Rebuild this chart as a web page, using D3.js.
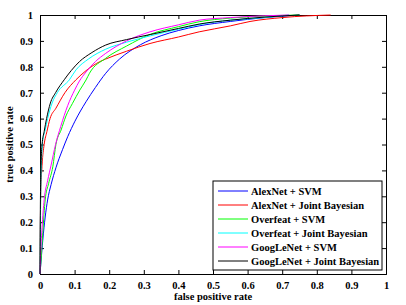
<!DOCTYPE html>
<html>
<head>
<meta charset="utf-8">
<script src="https://cdn.jsdelivr.net/npm/d3@7"></script>
<style>
  body { margin: 0; background: #fff; }
  text { font-family: "Liberation Serif", "Times New Roman", serif; font-weight: bold; }
</style>
</head>
<body>
<div class="canvas"></div>
<script>
var margin = {top: 15, right: 20, bottom: 31, left: 40},
    width = 406 - margin.left - margin.right,
    height = 305 - margin.top - margin.bottom;

// ROC curves: false positive rate / true positive rate
var seriesNames = ["AlexNet + SVM", "AlexNet + Joint Bayesian", "Overfeat + SVM",
                   "Overfeat + Joint Bayesian", "GoogLeNet + SVM", "GoogLeNet + Joint Bayesian"];
var seriesColors = ["#0000ff", "#ff0000", "#00ff00", "#00ffff", "#ff00ff", "#000000"];

var alexSvmFpr = [0, 0.003, 0.008, 0.015, 0.022, 0.032, 0.046, 0.065, 0.08, 0.101, 0.133, 0.16, 0.19, 0.23, 0.29, 0.35, 0.40, 0.46, 0.55, 0.65, 0.75];
var alexSvmTpr = [0, 0.05, 0.13, 0.22, 0.286, 0.345, 0.41, 0.48, 0.53, 0.59, 0.665, 0.72, 0.775, 0.83, 0.885, 0.92, 0.94, 0.958, 0.975, 0.99, 1];

var alexJbFpr = [0, 0.002, 0.006, 0.012, 0.02, 0.029, 0.046, 0.072, 0.104, 0.133, 0.173, 0.19, 0.25, 0.318, 0.40, 0.46, 0.55, 0.607, 0.70, 0.84];
var alexJbTpr = [0, 0.3, 0.42, 0.5, 0.55, 0.60, 0.64, 0.70, 0.75, 0.785, 0.82, 0.83, 0.86, 0.89, 0.915, 0.935, 0.958, 0.975, 0.99, 1];

var overSvmFpr = [0, 0.003, 0.008, 0.015, 0.025, 0.037, 0.046, 0.061, 0.075, 0.094, 0.115, 0.133, 0.143, 0.19, 0.25, 0.318, 0.40, 0.46, 0.55, 0.65, 0.75];
var overSvmTpr = [0, 0.054, 0.16, 0.286, 0.35, 0.414, 0.50, 0.556, 0.61, 0.659, 0.71, 0.749, 0.775, 0.833, 0.88, 0.925, 0.955, 0.974, 0.988, 0.996, 1];

var overJbFpr = [0, 0.002, 0.005, 0.008, 0.014, 0.022, 0.035, 0.05, 0.085, 0.104, 0.14, 0.19, 0.25, 0.32, 0.40, 0.46, 0.55, 0.65, 0.72];
var overJbTpr = [0, 0.3, 0.45, 0.517, 0.55, 0.60, 0.66, 0.70, 0.75, 0.788, 0.83, 0.868, 0.895, 0.92, 0.945, 0.963, 0.98, 0.99, 1];

var googSvmFpr = [0, 0.002, 0.006, 0.012, 0.022, 0.032, 0.045, 0.06, 0.08, 0.10, 0.114, 0.133, 0.16, 0.19, 0.25, 0.318, 0.40, 0.46, 0.55, 0.65, 0.72];
var googSvmTpr = [0, 0.08, 0.18, 0.286, 0.36, 0.42, 0.50, 0.57, 0.65, 0.71, 0.745, 0.78, 0.82, 0.852, 0.90, 0.935, 0.962, 0.98, 0.99, 0.997, 1];

var googJbFpr = [0, 0.001, 0.003, 0.006, 0.012, 0.019, 0.03, 0.045, 0.07, 0.09, 0.114, 0.15, 0.19, 0.25, 0.32, 0.40, 0.46, 0.55, 0.65, 0.75];
var googJbTpr = [0, 0.25, 0.42, 0.5, 0.55, 0.60, 0.66, 0.70, 0.75, 0.785, 0.82, 0.855, 0.884, 0.905, 0.925, 0.948, 0.965, 0.98, 0.992, 1];

var ticks = [0, 0.1, 0.2, 0.3, 0.4, 0.5, 0.6, 0.7, 0.8, 0.9, 1];

var series = [
  [alexSvmFpr, alexSvmTpr], [alexJbFpr, alexJbTpr], [overSvmFpr, overSvmTpr],
  [overJbFpr, overJbTpr], [googSvmFpr, googSvmTpr], [googJbFpr, googJbTpr]
].map(function(p, k) {
  return { name: seriesNames[k], color: seriesColors[k],
           values: p[0].map(function(f, i) { return [f, p[1][i]]; }) };
});

var svg = d3.select(".canvas").append("svg")
    .attr("width", width + margin.left + margin.right)
    .attr("height", height + margin.top + margin.bottom)
  .append("g")
    .attr("transform", "translate(" + margin.left + "," + margin.top + ")");

var x = d3.scaleLinear().domain([0, 1]).range([0, width]);
var y = d3.scaleLinear().domain([0, 1]).range([height, 0]);

var fmt = function(d) { return d === 0 || d === 1 ? d3.format("d")(d) : d3.format(".1f")(d); };

// axes: ticks point inward like the matlab figure
svg.append("g").attr("transform", "translate(0," + height + ")")
    .call(d3.axisBottom(x).tickValues(ticks).tickSize(-4).tickPadding(8).tickFormat(fmt));
svg.append("g")
    .call(d3.axisLeft(y).tickValues(ticks).tickSize(-4).tickPadding(7).tickFormat(fmt));
svg.append("g")
    .call(d3.axisTop(x).tickValues(ticks).tickSize(-4).tickFormat(""));
svg.append("g").attr("transform", "translate(" + width + ",0)")
    .call(d3.axisRight(y).tickValues(ticks).tickSize(-4).tickFormat(""));

svg.selectAll(".domain").attr("stroke", "#000");
svg.selectAll(".tick line").attr("stroke", "#000");
svg.selectAll(".tick text")
    .style("font-family", "'Liberation Serif', serif")
    .style("font-weight", "bold")
    .style("font-size", "10.5px")
    .attr("fill", "#000");

var line = d3.line()
    .curve(d3.curveMonotoneX)
    .x(function(d) { return x(d[0]); })
    .y(function(d) { return y(d[1]); });

svg.selectAll(".curve").data(series)
  .enter().append("path")
    .attr("class", "curve")
    .attr("d", function(d) { return line(d.values); })
    .attr("fill", "none")
    .attr("stroke", function(d) { return d.color; })
    .attr("stroke-width", 1);

// axis labels
svg.append("text")
    .attr("x", width / 2)
    .attr("y", height + 26)
    .attr("text-anchor", "middle")
    .style("font-size", "10.5px")
    .text("false positive rate");

svg.append("text")
    .attr("transform", "translate(-27," + (height / 2) + ") rotate(-90)")
    .attr("text-anchor", "middle")
    .style("font-size", "10.5px")
    .text("true positive rate");

// legend
var legend = svg.append("g").attr("transform", "translate(173,166)");
legend.append("rect")
    .attr("width", 169)
    .attr("height", 89)
    .attr("fill", "#fff")
    .attr("stroke", "#000");

var items = legend.selectAll(".item").data(series)
  .enter().append("g")
    .attr("class", "item")
    .attr("transform", function(d, i) { return "translate(0," + (10 + i * 14) + ")"; });
items.append("line")
    .attr("x1", 5).attr("x2", 35)
    .attr("stroke", function(d) { return d.color; })
    .attr("stroke-width", 1);
items.append("text")
    .attr("x", 38)
    .attr("dy", "0.35em")
    .style("font-size", "10.5px")
    .text(function(d) { return d.name; });
</script>
</body>
</html>
